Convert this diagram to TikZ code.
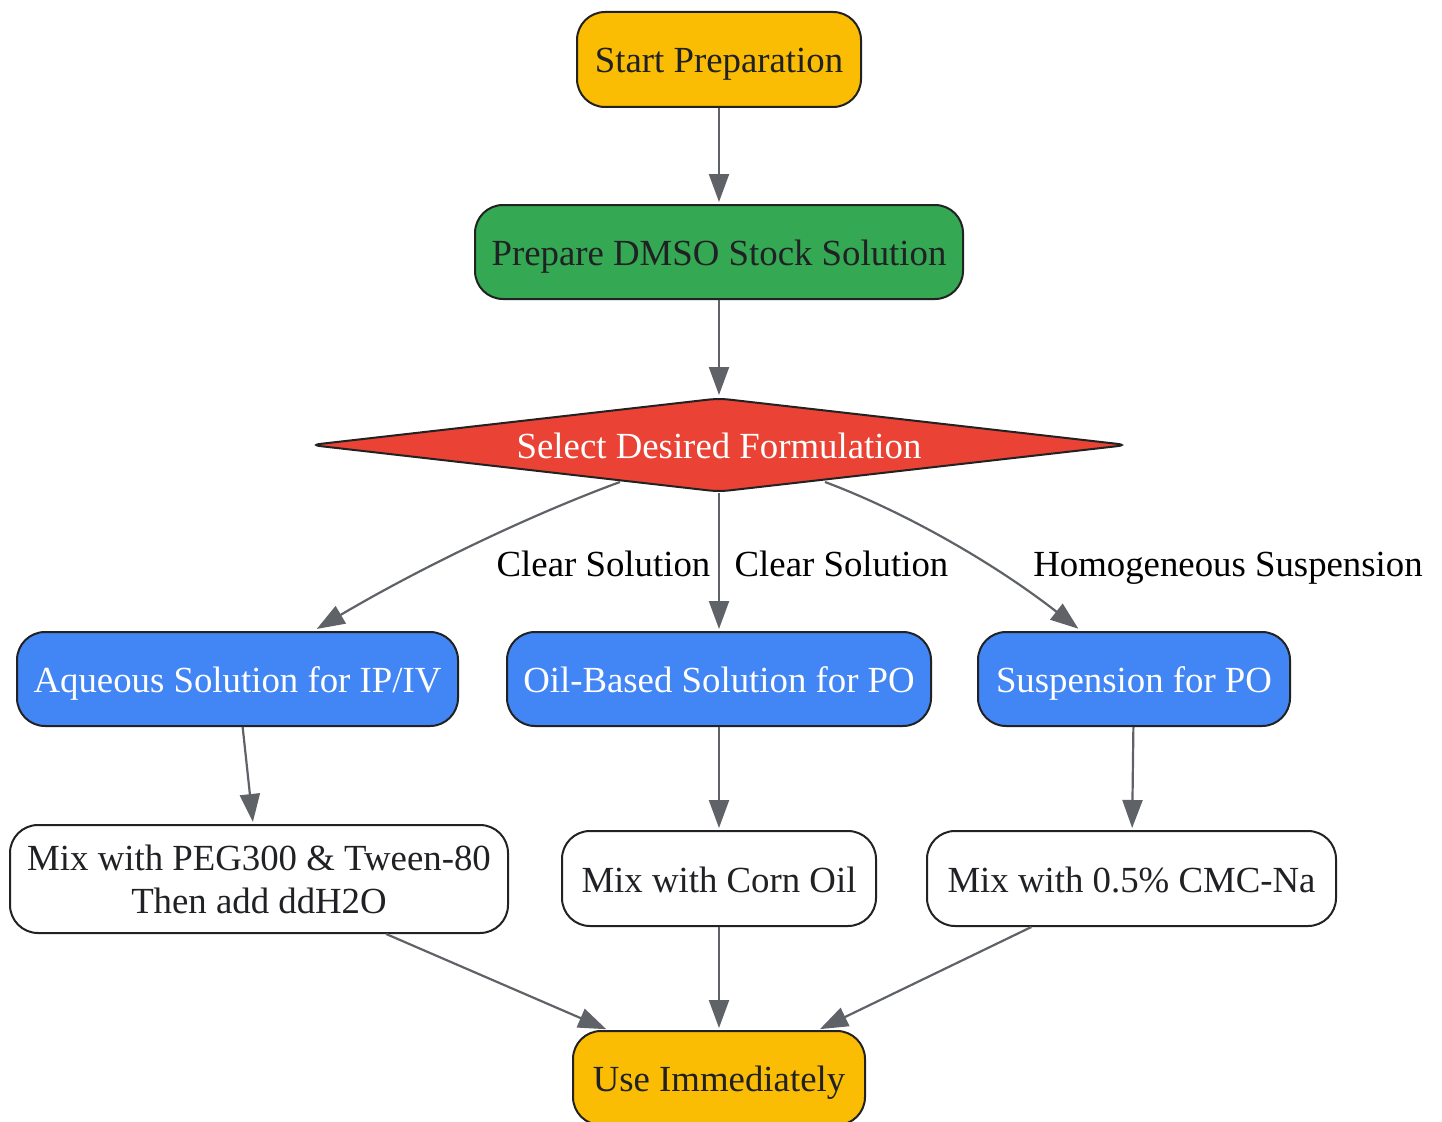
\documentclass[tikz,border=0pt]{standalone}
\usepackage{fontspec}
\setmainfont{Liberation Serif}
\usetikzlibrary{shapes.geometric,arrows.meta}
\definecolor{cyellow}{HTML}{FBBC04}
\definecolor{cgreen}{HTML}{34A853}
\definecolor{cred}{HTML}{EA4335}
\definecolor{cblue}{HTML}{4285F4}
\definecolor{ctext}{HTML}{202124}
\definecolor{cedge}{HTML}{5F6368}
\definecolor{cborder}{HTML}{222222}
\tikzset{
  every node/.style={font=\fontsize{36.8pt}{43pt}\selectfont},
  fixtext/.style={text height=34pt, text depth=7pt},
  box/.style={draw=cborder, line width=2pt, rounded corners=28pt, inner sep=0pt, align=center, text=ctext},
  ybox/.style={box, fixtext, fill=cyellow},
  gbox/.style={box, fixtext, fill=cgreen},
  bbox/.style={box, fixtext, fill=cblue, text=white},
  wbox/.style={box, fill=white},
  decide/.style={diamond, fixtext, draw=cborder, line width=2pt, fill=cred, text=white, aspect=8.8, inner sep=0pt, rounded corners=10pt},
  conn/.style={draw=cedge, line width=2.2pt, -{Triangle[length=28pt,width=20pt]}, shorten >=2pt},
  elabel/.style={fixtext, text=black, inner sep=0pt}
}
\begin{document}
\begin{tikzpicture}[x=1pt,y=-1pt]
\useasboundingbox (0,0) rectangle (1442,1121);
\node[ybox, minimum width=284pt, minimum height=95pt] (start) at (719,59.5) {Start Preparation};
\node[gbox, minimum width=488pt, minimum height=94pt] (dmso) at (719,252) {Prepare DMSO Stock Solution};
\node[decide, minimum width=818pt, minimum height=94pt] (sel) at (719,445) {Select Desired Formulation};
\node[bbox, minimum width=441pt, minimum height=94pt] (aq) at (237.5,679) {Aqueous Solution for IP/IV};
\node[bbox, minimum width=424pt, minimum height=94pt] (oil) at (719,679) {Oil-Based Solution for PO};
\node[bbox, minimum width=312pt, minimum height=94pt] (sus) at (1134,679) {Suspension for PO};
\node[wbox, minimum width=498pt, minimum height=108pt] (peg) at (259,879) {Mix with PEG300 \& Tween-80\\Then add ddH2O};
\node[wbox, fixtext, minimum width=314pt, minimum height=95pt] (corn) at (719,878.5) {Mix with Corn Oil};
\node[wbox, fixtext, minimum width=409pt, minimum height=95pt] (cmc) at (1131.5,878.5) {Mix with 0.5\% CMC-Na};
\node[ybox, minimum width=292pt, minimum height=94pt] (use) at (719,1078) {Use Immediately};

\coordinate (sl) at (620,482);
\coordinate (sr) at (825,482);
\coordinate (aqin) at (315,630);
\coordinate (susin) at (1080,630);

\draw[conn] (start) -- (dmso);
\draw[conn] (dmso) -- (sel);
\draw[conn] (sl) .. controls (530,515) and (420,568) .. (aqin);
\draw[conn] (sel) -- (oil);
\draw[conn] (sr) .. controls (900,510) and (990,560) .. (susin);
\draw[conn] (aq) -- (peg);
\draw[conn] (oil) -- (corn);
\draw[conn] (sus) -- (cmc);
\draw[conn] (peg) -- (use);
\draw[conn] (corn) -- (use);
\draw[conn] (cmc) -- (use);

\node[elabel] (l1) at (603.5,562.5) {Clear Solution};
\node[elabel] (l2) at (841.5,562.5) {Clear Solution};
\node[elabel] (l3) at (1228,562.5) {Homogeneous Suspension};
\end{tikzpicture}
\end{document}
